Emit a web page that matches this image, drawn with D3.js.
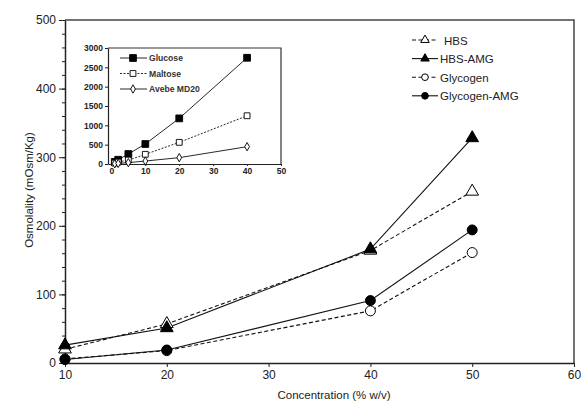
<!DOCTYPE html>
<html>
<head>
<meta charset="utf-8">
<script src="https://cdn.jsdelivr.net/npm/d3@7"></script>
<style>
  body { margin: 0; background: #fff; }
  svg, svg text { font-family: "Liberation Sans", Arial, sans-serif; }
  .axis path, .axis line { stroke: #222; }
</style>
</head>
<body>
<svg id="chart" width="581" height="403"></svg>
<script>
// main chart data
var conc = [10, 20, 40, 50];
var series_names = ["HBS", "HBS-AMG", "Glycogen", "Glycogen-AMG"];
var hbs = [20, 57, 164, 250];
var hbs_amg = [26, 51, 166, 328];
var glycogen = [6, 18, 76, 161];
var glycogen_amg = [5, 19, 91, 194];

// inset data
var inset_conc = [1, 2, 5, 10, 20, 40];
var inset_names = ["Glucose", "Maltose", "Avebe MD20"];
var glucose = [55, 110, 258, 517, 1180, 2747];
var maltose = [25, 50, 100, 250, 560, 1248];
var avebe = [5, 15, 35, 77, 164, 448];

var x_ticks = [10, 20, 30, 40, 50, 60];
var y_ticks = [0, 100, 200, 300, 400, 500];
var inset_x_ticks = [0, 10, 20, 30, 40, 50];
var inset_y_ticks = [0, 500, 1000, 1500, 2000, 2500, 3000];

var svg = d3.select("#chart");

//main scales
var x_scale = d3.scaleLinear().domain([10, 60]).range([65, 574]);
var y_scale = d3.scaleLinear().domain([0, 500]).range([363, 20]);

//frame (top + right)
svg.append("path")
    .attr("d", "M" + x_scale(10) + "," + y_scale(500) + "H" + x_scale(60) + "V" + y_scale(0))
    .attr("fill", "none").attr("stroke", "#444").attr("stroke-width", 1.5);

//minor y ticks
svg.append("g").attr("class", "axis")
    .attr("transform", "translate(" + x_scale(10) + ",0)")
    .call(d3.axisLeft(y_scale).tickValues(d3.range(0, 501, 20)).tickSize(3).tickFormat(""))
    .call(g => g.select(".domain").remove());

function style_axis(g, size, weight) {
    g.attr("font-family", null).attr("font-size", null);
    g.selectAll("text").attr("font-size", size).attr("font-weight", weight).attr("fill", "#222");
}

svg.append("g").attr("class", "axis")
    .attr("transform", "translate(" + x_scale(10) + ",0)")
    .call(d3.axisLeft(y_scale).tickValues(y_ticks).tickSize(6).tickPadding(3).tickSizeOuter(0))
    .call(g => style_axis(g, 12, "normal"))
    .call(g => g.select(".domain").attr("stroke-width", 1.5));

svg.append("g").attr("class", "axis")
    .attr("transform", "translate(0," + y_scale(0) + ")")
    .call(d3.axisBottom(x_scale).tickValues(x_ticks).tickSize(4).tickPadding(3).tickSizeOuter(0))
    .call(g => style_axis(g, 12, "normal"))
    .call(g => g.select(".domain").attr("stroke-width", 1.5));

//axis titles
svg.append("text")
    .attr("transform", "translate(33,190) rotate(-90)")
    .attr("text-anchor", "middle").attr("font-size", 11.5).attr("fill", "#222")
    .text("Osmolality (mOsm/Kg)");

svg.append("text")
    .attr("x", 334).attr("y", 399)
    .attr("text-anchor", "middle").attr("font-size", 11.5).attr("fill", "#222")
    .text("Concentration (% w/v)");

//series styling
var main_series = [
    {name: series_names[0], values: hbs, dash: "4,2.5", shape: d3.symbolTriangle, size: 70, fill: "#fff"},
    {name: series_names[1], values: hbs_amg, dash: null, shape: d3.symbolTriangle, size: 70, fill: "#000"},
    {name: series_names[2], values: glycogen, dash: "4,2.5", shape: d3.symbolCircle, size: 78, fill: "#fff"},
    {name: series_names[3], values: glycogen_amg, dash: null, shape: d3.symbolCircle, size: 78, fill: "#000"}
];

var line = d3.line()
    .x((d, i) => x_scale(conc[i]))
    .y(d => y_scale(d));

main_series.forEach(function(s) {
    svg.append("path")
        .datum(s.values)
        .attr("d", line)
        .attr("fill", "none").attr("stroke", "#111").attr("stroke-width", 1.1)
        .attr("stroke-dasharray", s.dash);
});

main_series.forEach(function(s) {
    svg.append("g").selectAll("path")
        .data(s.values)
        .enter().append("path")
        .attr("d", d3.symbol().type(s.shape).size(s.size))
        .attr("transform", (d, i) => "translate(" + x_scale(conc[i]) + "," + y_scale(d) + ")")
        .attr("fill", s.fill).attr("stroke", "#000").attr("stroke-width", 1);
});

//main legend
var legend = svg.append("g").attr("transform", "translate(412,40)");
main_series.forEach(function(s, i) {
    var row = legend.append("g").attr("transform", "translate(0," + (i * 18.6) + ")");
    row.append("line").attr("x1", 0).attr("x2", 26).attr("y1", 0).attr("y2", 0)
        .attr("stroke", "#111").attr("stroke-width", 1.1).attr("stroke-dasharray", s.dash);
    row.append("path").attr("d", d3.symbol().type(s.shape).size(s.size * 0.45))
        .attr("transform", "translate(13,0)")
        .attr("fill", s.fill).attr("stroke", "#000").attr("stroke-width", 1);
    row.append("text").attr("x", i === 0 ? 32 : 28).attr("y", 4.5)
        .attr("font-size", 11.5).attr("fill", "#222")
        .text(s.name);
});

//INSET
var ix = d3.scaleLinear().domain([-1, 50]).range([108, 281]);
var iy = d3.scaleLinear().domain([0, 3000]).range([164, 48]);

svg.append("path")
    .attr("d", "M" + ix(-1) + "," + iy(3000) + "H" + ix(50) + "V" + iy(0))
    .attr("fill", "none").attr("stroke", "#333").attr("stroke-width", 1.2);

svg.append("g").attr("class", "axis")
    .attr("transform", "translate(" + ix(-1) + ",0)")
    .call(d3.axisLeft(iy).tickValues(inset_y_ticks).tickFormat(d3.format("d")).tickSize(3).tickPadding(2).tickSizeOuter(0))
    .call(g => style_axis(g, 8.5, "bold"))
    .call(g => g.select(".domain").attr("stroke-width", 1.2));

svg.append("g").attr("class", "axis")
    .attr("transform", "translate(0," + iy(0) + ")")
    .call(d3.axisBottom(ix).tickValues(inset_x_ticks).tickSize(2).tickPadding(2).tickSizeOuter(0))
    .call(g => style_axis(g, 8.5, "bold"))
    .call(g => g.select(".domain").attr("stroke-width", 1.2));

var inset_series = [
    {name: inset_names[0], values: glucose, dash: null, shape: d3.symbolSquare, size: 46, fill: "#000"},
    {name: inset_names[1], values: maltose, dash: "2,1.5", shape: d3.symbolSquare, size: 34, fill: "#fff"},
    {name: inset_names[2], values: avebe, dash: null, shape: d3.symbolDiamond, size: 20, fill: "#fff"}
];

var inset_line = d3.line()
    .x((d, i) => ix(inset_conc[i]))
    .y(d => iy(d));

inset_series.forEach(function(s) {
    svg.append("path")
        .datum(s.values)
        .attr("d", inset_line)
        .attr("fill", "none").attr("stroke", "#111").attr("stroke-width", 0.9)
        .attr("stroke-dasharray", s.dash);
    svg.append("g").selectAll("path")
        .data(s.values)
        .enter().append("path")
        .attr("d", d3.symbol().type(s.shape).size(s.size))
        .attr("transform", (d, i) => "translate(" + ix(inset_conc[i]) + "," + iy(d) + ")")
        .attr("fill", s.fill).attr("stroke", "#000").attr("stroke-width", 0.9);
});

//inset legend
var inset_legend = svg.append("g").attr("transform", "translate(120,58)");
inset_series.forEach(function(s, i) {
    var row = inset_legend.append("g").attr("transform", "translate(0," + (i * 15.5) + ")");
    row.append("line").attr("x1", 0).attr("x2", 27).attr("y1", 0).attr("y2", 0)
        .attr("stroke", "#111").attr("stroke-width", 0.9).attr("stroke-dasharray", s.dash);
    row.append("path").attr("d", d3.symbol().type(s.shape).size(s.size))
        .attr("transform", "translate(13,0)")
        .attr("fill", s.fill).attr("stroke", "#000").attr("stroke-width", 0.9);
    row.append("text").attr("x", 29).attr("y", 3)
        .attr("font-size", 8.6).attr("font-weight", "bold").attr("fill", "#333")
        .text(s.name);
});
</script>
</body>
</html>
